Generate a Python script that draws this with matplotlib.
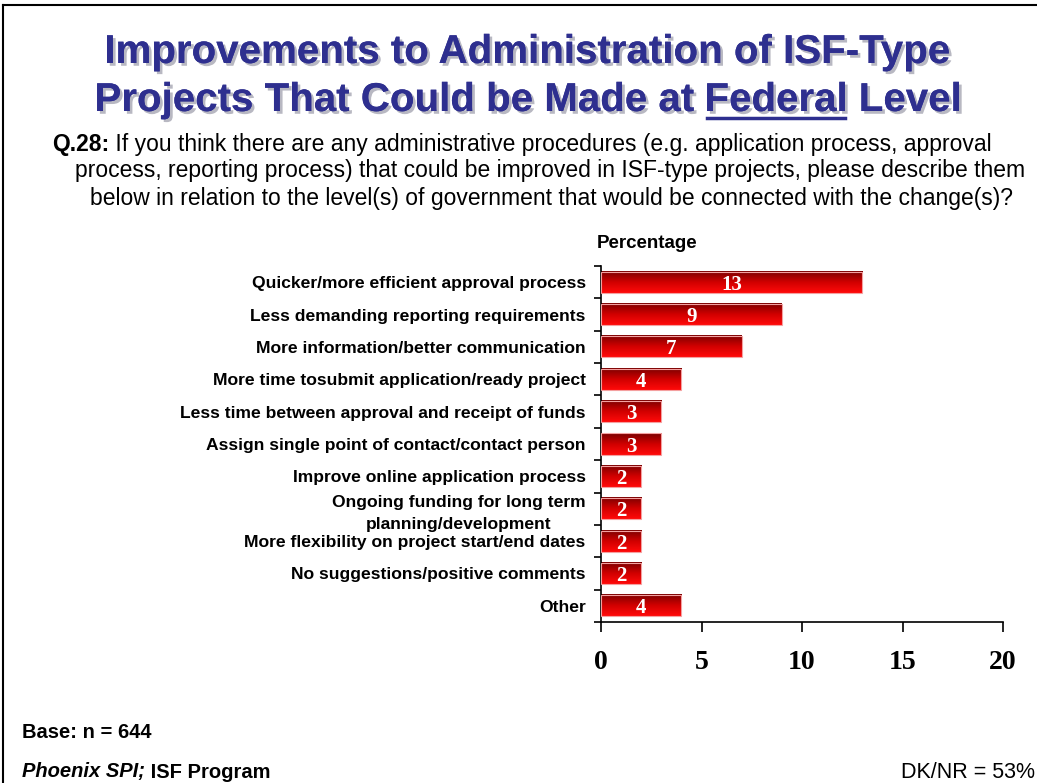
import matplotlib
matplotlib.use("Agg")
import matplotlib.pyplot as plt
import numpy as np
from matplotlib.colors import LinearSegmentedColormap
from matplotlib import patheffects as pe
from matplotlib.lines import Line2D

categories = [
    "Quicker/more efficient approval process",
    "Less demanding reporting requirements",
    "More information/better communication",
    "More time tosubmit application/ready project",
    "Less time between approval and receipt of funds",
    "Assign single point of contact/contact person",
    "Improve online application process",
    "Ongoing funding for long term\nplanning/development",
    "More flexibility on project start/end dates",
    "No suggestions/positive comments",
    "Other",
]
values = [13, 9, 7, 4, 3, 3, 2, 2, 2, 2, 4]
xticks = [0, 5, 10, 15, 20]

title1 = "Improvements to Administration of ISF-Type"
title2_pre = "Projects That Could be Made at "
title2_ul = "Federal"
title2_post = " Level"
q_label = "Q.28:"
q_lines = [
    " If you think there are any administrative procedures (e.g. application process, approval",
    "process, reporting process) that could be improved in ISF-type projects, please describe them",
    "below in relation to the level(s) of government that would be connected with the change(s)?",
]

W, H = 1037, 783
fig = plt.figure(figsize=(W / 100, H / 100), dpi=100)
fig.patch.set_facecolor("white")

def fx(px):
    return px / W

def fy(py):
    return 1 - py / H

# slide border
fig.add_artist(Line2D([fx(3), fx(3)], [fy(5), fy(783)], color="black", lw=1.5))
fig.add_artist(Line2D([fx(3), fx(1037)], [fy(5), fy(5)], color="black", lw=1.5))

ax = fig.add_axes([fx(601), fy(622), fx(1003) - fx(601), fy(266) - fy(622)])
n = len(categories)
ypos = np.arange(n)
bh = 0.65
cmap = LinearSegmentedColormap.from_list("redgrad", ["#7a0000", "#d00000", "#ff0a0a"])
grad = np.linspace(0, 1, 64).reshape(-1, 1)
for y, v in zip(ypos, values):
    ax.imshow(grad, cmap=cmap, aspect="auto", origin="upper",
              extent=(0, v, y + bh / 2, y - bh / 2), zorder=2, interpolation="bilinear")
    ax.add_patch(plt.Rectangle((0, y - bh / 2), v, bh, fill=False,
                               edgecolor="#f4a0a0", lw=0.8, zorder=3))
    ax.text(v / 2, y + 0.08, str(v), ha="center", va="center", color="white",
            fontsize=15, fontweight="bold", family="Liberation Serif", zorder=4)

ax.set_xlim(0, 20)
ax.set_ylim(n - 0.5, -0.5)
ax.set_xticks(xticks)
ax.set_xticklabels([str(t) for t in xticks], family="Liberation Serif",
                   fontweight="bold", fontsize=20)
ax.tick_params(axis="x", direction="out", length=7, width=1.2, pad=13)
ax.set_yticks(np.arange(-0.5, n, 1.0))
ax.set_yticklabels([])
ax.tick_params(axis="y", which="major", direction="out", length=5, width=1.2)
ax.set_yticks(ypos, minor=True)
ax.set_yticklabels(categories, minor=True, fontsize=12.6, fontweight="bold",
                   family="Liberation Sans", multialignment="center", linespacing=1.55)
ax.tick_params(axis="y", which="minor", length=0, pad=11)
for s in ["top", "right"]:
    ax.spines[s].set_visible(False)
for s in ["left", "bottom"]:
    ax.spines[s].set_linewidth(1.2)

fig.text(fx(597), fy(244), "Percentage", fontsize=13.5, fontweight="bold",
         family="Liberation Sans", ha="left", va="center")

# title
navy = "#2e2f8f"
shadow = [pe.withSimplePatchShadow(offset=(2, -2), shadow_rgbFace="#9a9aa8", alpha=0.7), pe.Normal()]
tkw = dict(fontsize=29, fontweight="bold", family="Liberation Sans", color=navy,
           va="center", path_effects=shadow)
fig.text(fx(527), fy(52), title1, ha="center", **tkw)

renderer = fig.canvas.get_renderer()
full = title2_pre + title2_ul + title2_post
t_full = fig.text(fx(528), fy(100), full, ha="center", **tkw)
bb_full = t_full.get_window_extent(renderer)
t_full.remove()
t_pre = fig.text(bb_full.x0 / W, fy(100), title2_pre, ha="left", **tkw)
bb_pre = t_pre.get_window_extent(renderer)
t_ul = fig.text(bb_pre.x1 / W, fy(100), title2_ul, ha="left", **tkw)
bb_ul = t_ul.get_window_extent(renderer)
fig.text(bb_ul.x1 / W, fy(100), title2_post, ha="left", **tkw)
fig.add_artist(Line2D([bb_ul.x0 / W + 0.002, bb_ul.x1 / W - 0.002], [fy(118), fy(118)],
                      color=navy, lw=2.5))

# question
qkw = dict(fontsize=16.5, family="Liberation Sans", va="center", color="black")
tq = fig.text(fx(52), fy(144), q_label, fontweight="bold", ha="left", **qkw)
bq = tq.get_window_extent(renderer)
fig.text(bq.x1 / W, fy(144), q_lines[0], ha="left", **qkw)
fig.text(fx(75), fy(171), q_lines[1], ha="left", **qkw)
fig.text(fx(90), fy(198), q_lines[2], ha="left", **qkw)

# footer
fkw = dict(family="Liberation Sans", va="center", color="black")
fig.text(fx(22), fy(732), "Base: n = 644", fontsize=14.5, fontweight="bold", ha="left", **fkw)
tp = fig.text(fx(22), fy(772), "Phoenix SPI;", fontsize=14.5, fontweight="bold",
              style="italic", ha="left", **fkw)
bp = tp.get_window_extent(renderer)
fig.text(bp.x1 / W, fy(772), " ISF Program", fontsize=14.5, fontweight="bold", ha="left", **fkw)
fig.text(fx(1035), fy(772), "DK/NR = 53%", fontsize=15.5, ha="right", **fkw)

fig.savefig("out.png", dpi=100, facecolor="white")
